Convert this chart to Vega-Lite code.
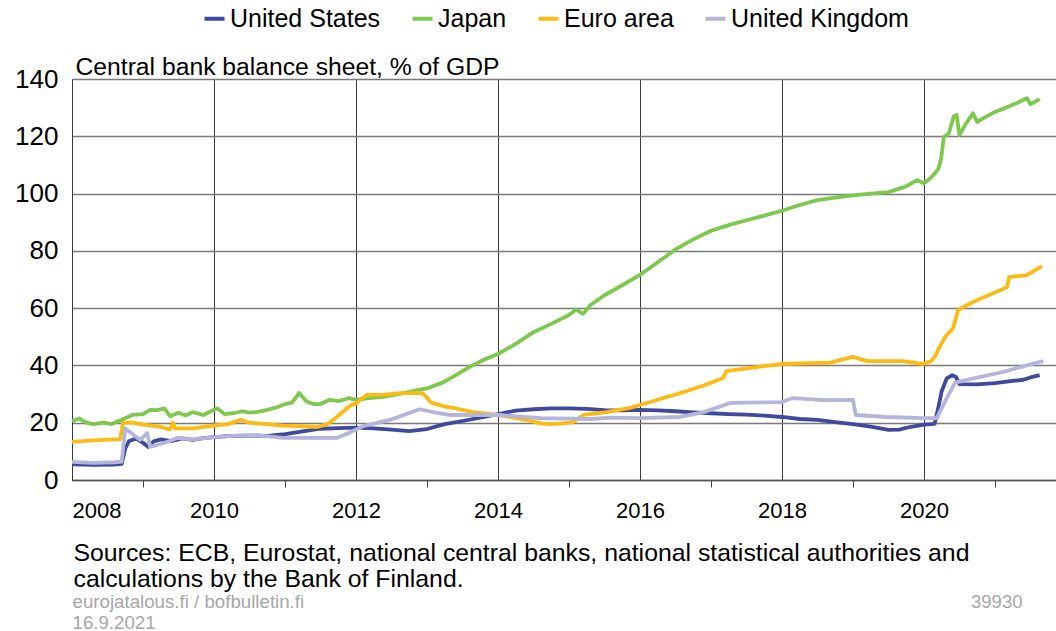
{
  "$schema": "https://vega.github.io/schema/vega-lite/v6.json",
  "autosize": "none",
  "width": 984,
  "height": 401,
  "padding": {"left": 72, "top": 79, "right": 0, "bottom": 151},
  "background": "white",
  "config": {
    "view": {"stroke": null},
    "font": "Liberation Sans",
    "axis": {"labelFont": "Liberation Sans", "titleFont": "Liberation Sans", "labelColor": "#000", "titleColor": "#000", "titleFontWeight": "normal"}
  },
  "data": {"values": [
    {"c":"United States","t":2008.0,"v":5.5},{"c":"United States","t":2008.3,"v":5.3},{"c":"United States","t":2008.6,"v":5.4},{"c":"United States","t":2008.7,"v":5.6},{"c":"United States","t":2008.75,"v":11},{"c":"United States","t":2008.8,"v":13.5},{"c":"United States","t":2008.9,"v":14.5},{"c":"United States","t":2009.0,"v":13},{"c":"United States","t":2009.07,"v":11.6},{"c":"United States","t":2009.15,"v":13.5},{"c":"United States","t":2009.25,"v":14.2},{"c":"United States","t":2009.4,"v":13.6},{"c":"United States","t":2009.55,"v":14.5},{"c":"United States","t":2009.7,"v":14.0},{"c":"United States","t":2009.85,"v":14.6},{"c":"United States","t":2010.0,"v":15.0},{"c":"United States","t":2010.25,"v":15.4},{"c":"United States","t":2010.5,"v":15.5},{"c":"United States","t":2010.75,"v":15.4},{"c":"United States","t":2011.0,"v":16.0},{"c":"United States","t":2011.25,"v":17.0},{"c":"United States","t":2011.5,"v":17.9},{"c":"United States","t":2011.75,"v":18.1},{"c":"United States","t":2012.0,"v":18.3},{"c":"United States","t":2012.25,"v":18.0},{"c":"United States","t":2012.5,"v":17.6},{"c":"United States","t":2012.75,"v":17.1},{"c":"United States","t":2013.0,"v":17.8},{"c":"United States","t":2013.25,"v":19.5},{"c":"United States","t":2013.5,"v":20.6},{"c":"United States","t":2013.75,"v":21.8},{"c":"United States","t":2014.0,"v":23.0},{"c":"United States","t":2014.25,"v":24.2},{"c":"United States","t":2014.5,"v":24.7},{"c":"United States","t":2014.75,"v":25.0},{"c":"United States","t":2015.0,"v":25.0},{"c":"United States","t":2015.25,"v":24.8},{"c":"United States","t":2015.5,"v":24.4},{"c":"United States","t":2015.75,"v":24.3},{"c":"United States","t":2016.0,"v":24.5},{"c":"United States","t":2016.25,"v":24.3},{"c":"United States","t":2016.5,"v":24.0},{"c":"United States","t":2016.75,"v":23.6},{"c":"United States","t":2017.0,"v":23.3},{"c":"United States","t":2017.25,"v":23.0},{"c":"United States","t":2017.5,"v":22.8},{"c":"United States","t":2017.75,"v":22.5},{"c":"United States","t":2018.0,"v":22.0},{"c":"United States","t":2018.25,"v":21.3},{"c":"United States","t":2018.5,"v":21.0},{"c":"United States","t":2018.75,"v":20.2},{"c":"United States","t":2019.0,"v":19.5},{"c":"United States","t":2019.25,"v":18.6},{"c":"United States","t":2019.5,"v":17.5},{"c":"United States","t":2019.65,"v":17.6},{"c":"United States","t":2019.8,"v":18.5},{"c":"United States","t":2020.0,"v":19.3},{"c":"United States","t":2020.15,"v":19.6},{"c":"United States","t":2020.2,"v":25},{"c":"United States","t":2020.25,"v":31},{"c":"United States","t":2020.32,"v":35.5},{"c":"United States","t":2020.4,"v":36.6},{"c":"United States","t":2020.45,"v":36},{"c":"United States","t":2020.5,"v":33.5},{"c":"United States","t":2020.75,"v":33.4},{"c":"United States","t":2021.0,"v":33.8},{"c":"United States","t":2021.25,"v":34.6},{"c":"United States","t":2021.4,"v":35.0},{"c":"United States","t":2021.5,"v":35.8},{"c":"United States","t":2021.63,"v":36.6},
    {"c":"Japan","t":2008.0,"v":20.5},{"c":"Japan","t":2008.1,"v":21.5},{"c":"Japan","t":2008.2,"v":20},{"c":"Japan","t":2008.3,"v":19.5},{"c":"Japan","t":2008.45,"v":20},{"c":"Japan","t":2008.55,"v":19.5},{"c":"Japan","t":2008.7,"v":21},{"c":"Japan","t":2008.85,"v":22.7},{"c":"Japan","t":2009.0,"v":23},{"c":"Japan","t":2009.1,"v":24.5},{"c":"Japan","t":2009.2,"v":24.4},{"c":"Japan","t":2009.3,"v":25},{"c":"Japan","t":2009.38,"v":22.3},{"c":"Japan","t":2009.5,"v":23.5},{"c":"Japan","t":2009.6,"v":22.5},{"c":"Japan","t":2009.7,"v":23.7},{"c":"Japan","t":2009.85,"v":22.7},{"c":"Japan","t":2010.0,"v":24.5},{"c":"Japan","t":2010.05,"v":25},{"c":"Japan","t":2010.15,"v":23},{"c":"Japan","t":2010.27,"v":23.3},{"c":"Japan","t":2010.4,"v":24},{"c":"Japan","t":2010.5,"v":23.5},{"c":"Japan","t":2010.6,"v":23.7},{"c":"Japan","t":2010.75,"v":24.5},{"c":"Japan","t":2010.9,"v":25.5},{"c":"Japan","t":2011.0,"v":26.5},{"c":"Japan","t":2011.1,"v":27},{"c":"Japan","t":2011.2,"v":30.4},{"c":"Japan","t":2011.3,"v":27.5},{"c":"Japan","t":2011.4,"v":26.5},{"c":"Japan","t":2011.5,"v":26.5},{"c":"Japan","t":2011.63,"v":28},{"c":"Japan","t":2011.75,"v":27.5},{"c":"Japan","t":2011.9,"v":28.6},{"c":"Japan","t":2012.0,"v":28},{"c":"Japan","t":2012.15,"v":28.5},{"c":"Japan","t":2012.38,"v":29},{"c":"Japan","t":2012.6,"v":30},{"c":"Japan","t":2012.86,"v":31.4},{"c":"Japan","t":2013.0,"v":32},{"c":"Japan","t":2013.22,"v":34},{"c":"Japan","t":2013.4,"v":36.5},{"c":"Japan","t":2013.6,"v":39.5},{"c":"Japan","t":2013.8,"v":42},{"c":"Japan","t":2014.0,"v":44},{"c":"Japan","t":2014.25,"v":47.5},{"c":"Japan","t":2014.5,"v":51.6},{"c":"Japan","t":2014.75,"v":54.5},{"c":"Japan","t":2015.0,"v":57.6},{"c":"Japan","t":2015.1,"v":59.5},{"c":"Japan","t":2015.2,"v":58},{"c":"Japan","t":2015.3,"v":61},{"c":"Japan","t":2015.5,"v":64.5},{"c":"Japan","t":2015.75,"v":68},{"c":"Japan","t":2016.0,"v":71.6},{"c":"Japan","t":2016.25,"v":76},{"c":"Japan","t":2016.5,"v":80.5},{"c":"Japan","t":2016.75,"v":84},{"c":"Japan","t":2017.0,"v":87},{"c":"Japan","t":2017.25,"v":89},{"c":"Japan","t":2017.5,"v":90.7},{"c":"Japan","t":2017.75,"v":92.3},{"c":"Japan","t":2018.0,"v":94},{"c":"Japan","t":2018.25,"v":96},{"c":"Japan","t":2018.5,"v":97.7},{"c":"Japan","t":2018.75,"v":98.6},{"c":"Japan","t":2019.0,"v":99.4},{"c":"Japan","t":2019.25,"v":100},{"c":"Japan","t":2019.5,"v":100.5},{"c":"Japan","t":2019.75,"v":102.5},{"c":"Japan","t":2019.9,"v":104.7},{"c":"Japan","t":2020.0,"v":103.6},{"c":"Japan","t":2020.1,"v":105.5},{"c":"Japan","t":2020.2,"v":108.5},{"c":"Japan","t":2020.24,"v":112},{"c":"Japan","t":2020.28,"v":119.7},{"c":"Japan","t":2020.35,"v":121},{"c":"Japan","t":2020.42,"v":127},{"c":"Japan","t":2020.46,"v":127.4},{"c":"Japan","t":2020.5,"v":120.4},{"c":"Japan","t":2020.58,"v":124},{"c":"Japan","t":2020.69,"v":128},{"c":"Japan","t":2020.75,"v":125},{"c":"Japan","t":2020.85,"v":126.5},{"c":"Japan","t":2021.0,"v":128.5},{"c":"Japan","t":2021.15,"v":130},{"c":"Japan","t":2021.3,"v":131.5},{"c":"Japan","t":2021.45,"v":133.3},{"c":"Japan","t":2021.5,"v":131.2},{"c":"Japan","t":2021.63,"v":133},
    {"c":"Euro area","t":2008.0,"v":13.3},{"c":"Euro area","t":2008.3,"v":13.8},{"c":"Euro area","t":2008.6,"v":14.2},{"c":"Euro area","t":2008.68,"v":14.3},{"c":"Euro area","t":2008.72,"v":20},{"c":"Euro area","t":2008.86,"v":20},{"c":"Euro area","t":2009.0,"v":19.3},{"c":"Euro area","t":2009.24,"v":18.6},{"c":"Euro area","t":2009.38,"v":17.7},{"c":"Euro area","t":2009.42,"v":20},{"c":"Euro area","t":2009.45,"v":18},{"c":"Euro area","t":2009.7,"v":18},{"c":"Euro area","t":2009.99,"v":19},{"c":"Euro area","t":2010.2,"v":19.5},{"c":"Euro area","t":2010.37,"v":21},{"c":"Euro area","t":2010.5,"v":20},{"c":"Euro area","t":2010.75,"v":19.5},{"c":"Euro area","t":2010.97,"v":19},{"c":"Euro area","t":2011.2,"v":18.8},{"c":"Euro area","t":2011.45,"v":18.5},{"c":"Euro area","t":2011.6,"v":19.5},{"c":"Euro area","t":2011.68,"v":21},{"c":"Euro area","t":2011.8,"v":23.5},{"c":"Euro area","t":2011.92,"v":26},{"c":"Euro area","t":2012.0,"v":26.8},{"c":"Euro area","t":2012.15,"v":29.7},{"c":"Euro area","t":2012.38,"v":29.7},{"c":"Euro area","t":2012.62,"v":30.3},{"c":"Euro area","t":2012.94,"v":30.3},{"c":"Euro area","t":2013.06,"v":27},{"c":"Euro area","t":2013.23,"v":25.8},{"c":"Euro area","t":2013.4,"v":25},{"c":"Euro area","t":2013.65,"v":23.7},{"c":"Euro area","t":2014.0,"v":22.7},{"c":"Euro area","t":2014.4,"v":21},{"c":"Euro area","t":2014.6,"v":19.8},{"c":"Euro area","t":2014.73,"v":19.5},{"c":"Euro area","t":2014.9,"v":19.8},{"c":"Euro area","t":2015.06,"v":20.2},{"c":"Euro area","t":2015.2,"v":22.7},{"c":"Euro area","t":2015.53,"v":23.7},{"c":"Euro area","t":2015.86,"v":25.2},{"c":"Euro area","t":2016.0,"v":26.2},{"c":"Euro area","t":2016.25,"v":28},{"c":"Euro area","t":2016.56,"v":30.3},{"c":"Euro area","t":2016.9,"v":33},{"c":"Euro area","t":2017.17,"v":35.6},{"c":"Euro area","t":2017.22,"v":38},{"c":"Euro area","t":2017.5,"v":39},{"c":"Euro area","t":2018.0,"v":40.5},{"c":"Euro area","t":2018.68,"v":41},{"c":"Euro area","t":2019.0,"v":43},{"c":"Euro area","t":2019.2,"v":41.5},{"c":"Euro area","t":2019.7,"v":41.5},{"c":"Euro area","t":2019.98,"v":40.5},{"c":"Euro area","t":2020.1,"v":41.5},{"c":"Euro area","t":2020.15,"v":43},{"c":"Euro area","t":2020.22,"v":46.4},{"c":"Euro area","t":2020.3,"v":50},{"c":"Euro area","t":2020.41,"v":53},{"c":"Euro area","t":2020.48,"v":59.3},{"c":"Euro area","t":2020.6,"v":61},{"c":"Euro area","t":2020.75,"v":62.8},{"c":"Euro area","t":2021.0,"v":65.5},{"c":"Euro area","t":2021.17,"v":67.3},{"c":"Euro area","t":2021.2,"v":70.8},{"c":"Euro area","t":2021.45,"v":71.5},{"c":"Euro area","t":2021.66,"v":74.7},
    {"c":"United Kingdom","t":2008.0,"v":6.3},{"c":"United Kingdom","t":2008.3,"v":6.0},{"c":"United Kingdom","t":2008.6,"v":6.2},{"c":"United Kingdom","t":2008.7,"v":6.4},{"c":"United Kingdom","t":2008.75,"v":18},{"c":"United Kingdom","t":2008.82,"v":16.7},{"c":"United Kingdom","t":2008.96,"v":14},{"c":"United Kingdom","t":2009.06,"v":16.4},{"c":"United Kingdom","t":2009.1,"v":11.6},{"c":"United Kingdom","t":2009.2,"v":12.2},{"c":"United Kingdom","t":2009.38,"v":13.6},{"c":"United Kingdom","t":2009.48,"v":14.7},{"c":"United Kingdom","t":2009.7,"v":14.2},{"c":"United Kingdom","t":2010.0,"v":15},{"c":"United Kingdom","t":2010.3,"v":15.5},{"c":"United Kingdom","t":2010.6,"v":15.7},{"c":"United Kingdom","t":2010.97,"v":14.7},{"c":"United Kingdom","t":2011.45,"v":14.7},{"c":"United Kingdom","t":2011.73,"v":14.7},{"c":"United Kingdom","t":2011.92,"v":16.7},{"c":"United Kingdom","t":2012.1,"v":18.8},{"c":"United Kingdom","t":2012.48,"v":21},{"c":"United Kingdom","t":2012.9,"v":24.7},{"c":"United Kingdom","t":2013.14,"v":23.4},{"c":"United Kingdom","t":2013.32,"v":22.7},{"c":"United Kingdom","t":2013.6,"v":22.7},{"c":"United Kingdom","t":2014.0,"v":22.7},{"c":"United Kingdom","t":2014.6,"v":21.6},{"c":"United Kingdom","t":2015.3,"v":21.3},{"c":"United Kingdom","t":2015.6,"v":21.8},{"c":"United Kingdom","t":2016.0,"v":21.6},{"c":"United Kingdom","t":2016.56,"v":22},{"c":"United Kingdom","t":2016.9,"v":23.7},{"c":"United Kingdom","t":2017.27,"v":26.9},{"c":"United Kingdom","t":2018.0,"v":27.2},{"c":"United Kingdom","t":2018.15,"v":28.6},{"c":"United Kingdom","t":2018.6,"v":27.9},{"c":"United Kingdom","t":2019.0,"v":28.0},{"c":"United Kingdom","t":2019.04,"v":22.7},{"c":"United Kingdom","t":2019.48,"v":22},{"c":"United Kingdom","t":2020.0,"v":21.6},{"c":"United Kingdom","t":2020.18,"v":21.6},{"c":"United Kingdom","t":2020.32,"v":28.6},{"c":"United Kingdom","t":2020.44,"v":34},{"c":"United Kingdom","t":2020.65,"v":35.2},{"c":"United Kingdom","t":2021.11,"v":37.7},{"c":"United Kingdom","t":2021.45,"v":40},{"c":"United Kingdom","t":2021.68,"v":41.5}
  ]},
  "resolve": {"axis": {"x": "independent", "y": "independent"}},
  "layer": [
    {
      "mark": {"type": "line", "opacity": 0},
      "encoding": {
        "x": {"field": "t", "type": "quantitative", "scale": {"domain": [2008, 2021.86], "nice": false, "zero": false},
          "axis": {"orient": "bottom", "labels": false, "ticks": false, "domain": false, "grid": false,
            "title": ["eurojatalous.fi / bofbulletin.fi", "16.9.2021"], "titleX": 0, "titleY": 127, "titleAlign": "left", "titleAnchor": "start", "titleBaseline": "alphabetic", "titleAngle": 0, "titleFontSize": 18.7, "titleLineHeight": 21, "titleColor": "#a6a6a6"}},
        "y": {"field": "v", "type": "quantitative", "scale": {"domain": [0, 140], "nice": false},
          "axis": {"orient": "right", "labels": false, "ticks": false, "domain": false, "grid": false,
            "title": "39930", "titleX": -34, "titleY": 528, "titleAlign": "right", "titleAnchor": "start", "titleBaseline": "alphabetic", "titleAngle": 0, "titleFontSize": 18.5, "titleColor": "#a6a6a6"}},
        "detail": {"field": "c"}
      }
    },
    {
      "mark": {"type": "line", "strokeWidth": 3.8, "strokeJoin": "round"},
      "encoding": {
        "x": {"field": "t", "type": "quantitative", "scale": {"domain": [2008, 2021.86], "nice": false, "zero": false},
          "axis": {"orient": "bottom", "values": [2008,2009,2010,2011,2012,2013,2014,2015,2016,2017,2018,2019,2020,2021],
            "format": "d", "labelExpr": "datum.value % 2 === 0 ? datum.label : ''", "labelFlush": true, "labelOverlap": false,
            "labelFontSize": 22, "labelPadding": 13, "tickSize": 7, "tickColor": "#404040", "tickWidth": 1,
            "tickOpacity": {"condition": {"test": "datum.value % 2 === 1", "value": 1}, "value": 0},
            "grid": true, "gridColor": "#3a3a3a", "gridWidth": 1,
            "gridOpacity": {"condition": {"test": "datum.value % 2 === 0", "value": 1}, "value": 0},
            "domain": true, "domainColor": "#555", "domainWidth": 1.5,
            "title": ["Sources: ECB, Eurostat, national central banks, national statistical authorities and", "calculations by the Bank of Finland."],
            "titleX": 1, "titleY": 80, "titleAlign": "left", "titleAnchor": "start", "titleBaseline": "alphabetic", "titleAngle": 0, "titleFontSize": 24.8, "titleLineHeight": 26, "titleLimit": 1000}},
        "y": {"field": "v", "type": "quantitative", "scale": {"domain": [0, 140], "nice": false},
          "axis": {"orient": "left", "values": [0,20,40,60,80,100,120,140], "labelFontSize": 26, "labelPadding": 14, "ticks": false,
            "grid": true, "gridColor": "#7a7a7a", "gridWidth": 1.5, "domain": true, "domainColor": "#3a3a3a", "domainWidth": 1,
            "title": "Central bank balance sheet, % of GDP", "titleX": 3, "titleY": -5, "titleAlign": "left", "titleAnchor": "start", "titleBaseline": "alphabetic", "titleAngle": 0, "titleFontSize": 24.7, "titleLimit": 1000}},
        "color": {"field": "c", "type": "nominal",
          "scale": {"domain": ["United States", "Japan", "Euro area", "United Kingdom"], "range": ["#3f4a9e", "#7dc94e", "#fdbb12", "#b3b5dd"]},
          "legend": {"orient": "none", "legendX": 130, "legendY": -73, "direction": "horizontal", "title": null,
            "symbolType": "stroke", "symbolStrokeWidth": 4, "symbolSize": 400, "labelFontSize": 25, "labelFont": "Liberation Sans", "labelColor": "#000",
            "labelOffset": 3, "columnPadding": 23, "labelLimit": 400, "symbolOpacity": 1}}
      }
    }
  ]
}
